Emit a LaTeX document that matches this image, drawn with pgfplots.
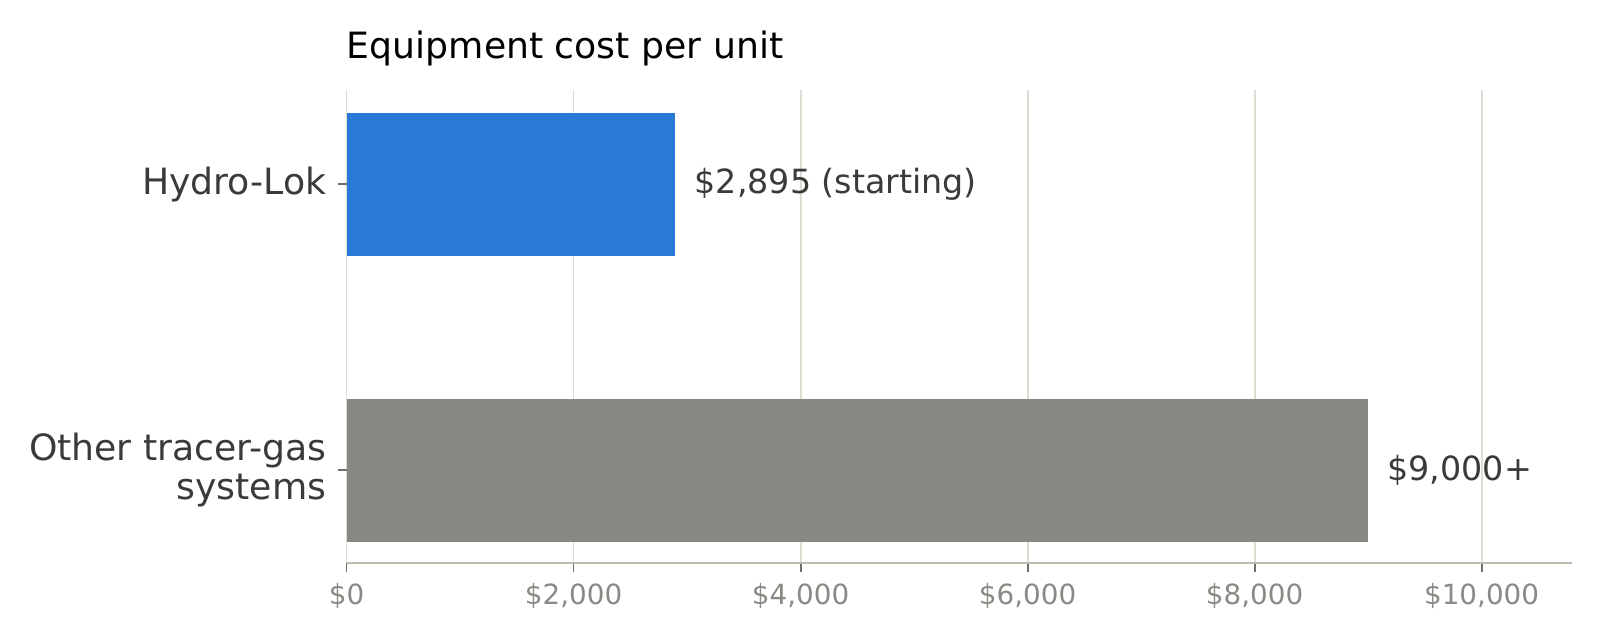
\documentclass[border=0pt]{standalone}
\usepackage{fontspec}
\setmainfont{DejaVu Sans}
\usepackage{pgfplots}
\pgfplotsset{compat=1.18}
\definecolor{barblue}{HTML}{2979D6}
\definecolor{bargray}{HTML}{888782}
\definecolor{gridc}{HTML}{DCDCD2}
\definecolor{axisc}{HTML}{BDBDAE}
\definecolor{tickc}{HTML}{8A8A85}
\definecolor{tickm}{HTML}{6E6E6A}
\definecolor{labc}{HTML}{3A3A38}
\begin{document}
\begin{tikzpicture}
\begin{axis}[
  at={(0,0)}, anchor=south west,
  scale only axis,
  width=599.5bp, height=231.5bp,
  xmin=0, xmax=10800,
  ymin=-0.325, ymax=1.33,
  xbar, bar width=0.5,
  axis x line*=bottom, axis y line*=left,
  x axis line style={color=axisc, line width=1pt, -},
  y axis line style={draw=none},
  scaled x ticks=false,
  xtick={0,2000,4000,6000,8000,10000},
  xticklabels={{\$0},{\$2,000},{\$4,000},{\$6,000},{\$8,000},{\$10,000}},
  xticklabel style={font=\fontsize{13.6bp}{16bp}\selectfont, text=tickc, yshift=-3.5bp},
  ytick={0,1},
  yticklabels={{Other tracer-gas\\systems},{Hydro-Lok}},
  yticklabel style={font=\fontsize{17.7bp}{19bp}\selectfont, text=labc, align=right, xshift=-3.5bp},
  xmajorgrids, major grid style={color=gridc, line width=0.9pt},
  tick style={color=tickm, line width=0.9pt},
  major tick length=4.2bp,
  tick align=outside,
  every tick label/.append style={inner sep=2bp},
  clip=false,
]
\addplot[draw=none, fill=barblue, bar shift=0pt,
  nodes near coords, point meta=explicit symbolic,
  every node near coord/.append style={anchor=west, xshift=6bp, font=\fontsize{16.3bp}{17bp}\selectfont, text=labc}]
  table[meta=lab, col sep=semicolon] {
x;y;lab
2895;1;\$2,895 (starting)
};
\addplot[draw=none, fill=bargray, bar shift=0pt,
  nodes near coords, point meta=explicit symbolic,
  every node near coord/.append style={anchor=west, xshift=6bp, font=\fontsize{16.3bp}{17bp}\selectfont, text=labc}]
  table[meta=lab, col sep=semicolon] {
x;y;lab
9000;0;\$9,000+
};
\node[anchor=base west, inner sep=0pt, font=\fontsize{17.7bp}{19bp}\selectfont, text=black]
  at (rel axis cs:0,1) [yshift=15.5bp] {Equipment cost per unit};
\end{axis}
\pgfresetboundingbox
\path[use as bounding box] (-169.5bp,-37.5bp) rectangle (613bp,275.5bp);
\end{tikzpicture}
\end{document}
